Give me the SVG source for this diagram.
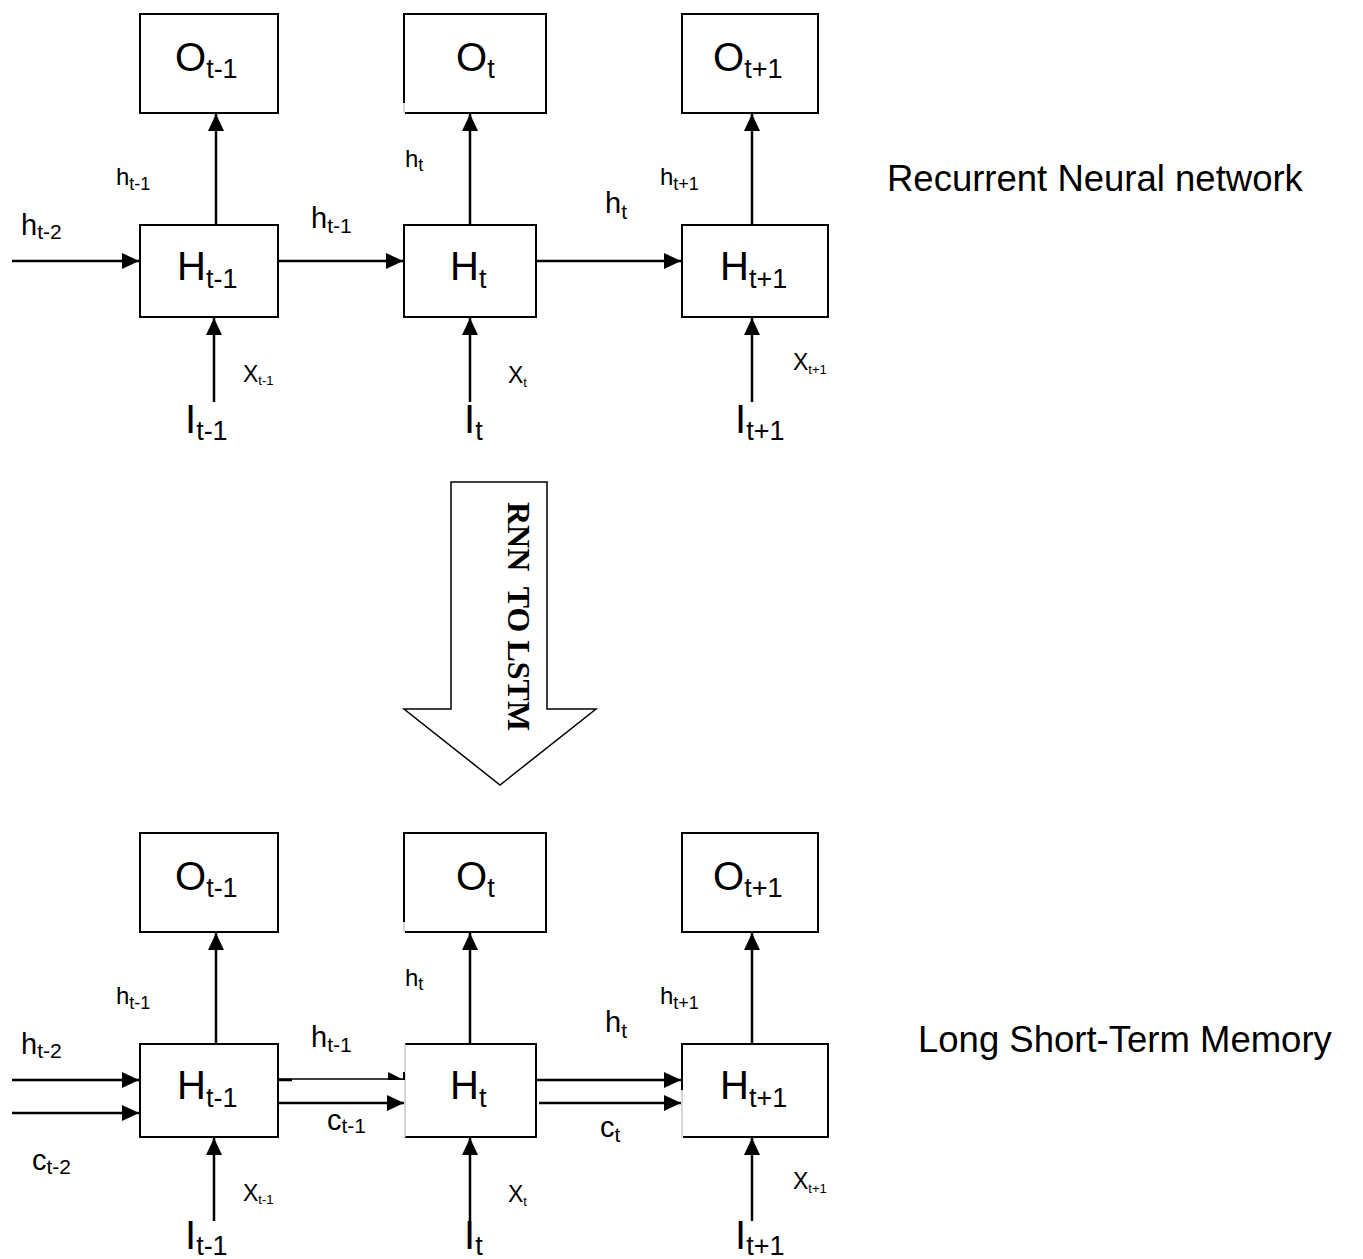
<svg xmlns="http://www.w3.org/2000/svg" width="1363" height="1259" viewBox="0 0 1363 1259">
<style>
.box{fill:#fff;stroke:#000;stroke-width:2}
.edge{fill:none;stroke:#000;stroke-width:2}
.faint{fill:none;stroke:#c8c8c8;stroke-width:1.5}
.con{fill:none;stroke:#000;stroke-width:2.5;marker-end:url(#ah)}
.t{font-family:"Liberation Sans",Arial,sans-serif;fill:#000}
.nd{font-size:40px}
.nd .s{font-size:27px}
.bg{font-size:29px}
.bg .s{font-size:21px}
.sm{font-size:24px}
.sm .s{font-size:18px}
.xs{font-size:23px}
.xs .s{font-size:13px}
.cap{font-size:36.5px}
.big{font-family:"Liberation Serif","Times New Roman",serif;font-weight:bold;font-size:32px;white-space:pre}
</style>
<defs>
<marker id="ah" markerUnits="userSpaceOnUse" markerWidth="17" markerHeight="16" refX="17" refY="8" orient="auto">
<path d="M0,0 L17,8 L0,16 z" fill="#000"/>
</marker>
</defs>
<rect width="1363" height="1259" fill="#fff"/>

<g id="connectors">
<line class="con" x1="216" y1="225" x2="216" y2="114"/>
<line class="con" x1="470" y1="225" x2="470" y2="114"/>
<line class="con" x1="752" y1="225" x2="752" y2="114"/>
<line class="con" x1="12" y1="261" x2="139" y2="261"/>
<line class="con" x1="278" y1="261" x2="403" y2="261"/>
<line class="con" x1="536" y1="261" x2="681" y2="261"/>
<line class="con" x1="214" y1="402" x2="214" y2="318"/>
<line class="con" x1="470" y1="402" x2="470" y2="318"/>
<line class="con" x1="752" y1="402" x2="752" y2="318"/>

<line class="con" x1="216" y1="1044" x2="216" y2="933"/>
<line class="con" x1="470" y1="1044" x2="470" y2="933"/>
<line class="con" x1="752" y1="1044" x2="752" y2="933"/>
<line class="con" x1="12" y1="1080" x2="139" y2="1080"/>
<line class="con" x1="12" y1="1113" x2="139" y2="1113"/>
<line x1="278" y1="1079" x2="404" y2="1079" stroke="#000" stroke-width="1.5"/>
<line x1="278" y1="1080" x2="292" y2="1080" stroke="#000" stroke-width="2.5"/>
<polygon points="388,1072 404,1080 388,1080" fill="#000"/>
<line class="con" x1="278" y1="1103" x2="404" y2="1103"/>
<line class="con" x1="537" y1="1080" x2="681" y2="1080"/>
<line class="con" x1="539" y1="1103" x2="681" y2="1103"/>
<line class="con" x1="214" y1="1221" x2="214" y2="1138"/>
<line class="con" x1="470" y1="1221" x2="470" y2="1138"/>
<line class="con" x1="752" y1="1221" x2="752" y2="1138"/>
</g>

<g id="O_t-1">
<rect class="box" x="140" y="14" width="138" height="99"/>
<text class="t nd" x="175" y="71">O<tspan class="s" dy="7">t-1</tspan></text>
</g>
<g id="O_t">
<rect x="404" y="14" width="142" height="99" fill="#fff"/>
<path class="edge" d="M404,103 V14 H546 V113 H405"/>
<path class="faint" d="M404,103 V113"/>
<text class="t nd" x="456" y="71">O<tspan class="s" dy="7">t</tspan></text>
</g>
<g id="O_t+1">
<rect class="box" x="682" y="14" width="136" height="99"/>
<text class="t nd" x="713" y="71">O<tspan class="s" dy="7">t+1</tspan></text>
</g>
<g id="H_t-1">
<rect class="box" x="140" y="225" width="138" height="92"/>
<text class="t nd" x="177" y="280">H<tspan class="s" dy="8">t-1</tspan></text>
</g>
<g id="H_t">
<rect class="box" x="404" y="225" width="132" height="92"/>
<text class="t nd" x="450" y="280">H<tspan class="s" dy="8">t</tspan></text>
</g>
<g id="H_t+1">
<rect class="box" x="682" y="225" width="146" height="92"/>
<text class="t nd" x="720" y="280">H<tspan class="s" dy="8">t+1</tspan></text>
</g>

<g id="O2_t-1">
<rect class="box" x="140" y="833" width="138" height="99"/>
<text class="t nd" x="175" y="890">O<tspan class="s" dy="7">t-1</tspan></text>
</g>
<g id="O2_t">
<rect x="404" y="833" width="142" height="99" fill="#fff"/>
<path class="edge" d="M404,922 V833 H546 V932 H405"/>
<path class="faint" d="M404,922 V932"/>
<text class="t nd" x="456" y="890">O<tspan class="s" dy="7">t</tspan></text>
</g>
<g id="O2_t+1">
<rect class="box" x="682" y="833" width="136" height="99"/>
<text class="t nd" x="713" y="890">O<tspan class="s" dy="7">t+1</tspan></text>
</g>
<g id="H2_t-1">
<rect class="box" x="140" y="1044" width="138" height="93"/>
<text class="t nd" x="177" y="1099">H<tspan class="s" dy="8">t-1</tspan></text>
</g>
<g id="H2_t">
<rect x="405" y="1044" width="131" height="93" fill="#fff"/>
<path class="edge" d="M405,1044 H536 V1137 H405"/>
<path class="faint" d="M405,1044 V1137"/>
<path class="edge" d="M404,1072 V1080"/>
<text class="t nd" x="450" y="1099">H<tspan class="s" dy="8">t</tspan></text>
</g>
<g id="H2_t+1">
<rect x="682" y="1044" width="146" height="93" fill="#fff"/>
<path class="edge" d="M682,1090 V1044 H828 V1137 H683"/>
<path class="faint" d="M682,1090 V1137"/>
<text class="t nd" x="720" y="1099">H<tspan class="s" dy="8">t+1</tspan></text>
</g>

<g id="inputs">
<text class="t nd" x="185" y="433">I<tspan class="s" dy="7">t-1</tspan></text>
<text class="t nd" x="464" y="433">I<tspan class="s" dy="7">t</tspan></text>
<text class="t nd" x="735" y="433">I<tspan class="s" dy="7">t+1</tspan></text>
<text class="t nd" x="185" y="1249">I<tspan class="s" dy="6">t-1</tspan></text>
<text class="t nd" x="464" y="1249">I<tspan class="s" dy="6">t</tspan></text>
<text class="t nd" x="735" y="1249">I<tspan class="s" dy="6">t+1</tspan></text>
</g>

<g id="labels">
<text class="t bg" x="21" y="235">h<tspan class="s" dy="4">t-2</tspan></text>
<text class="t bg" x="311" y="228">h<tspan class="s" dy="5">t-1</tspan></text>
<text class="t bg" x="605" y="213">h<tspan class="s" dy="6">t</tspan></text>
<text class="t sm" x="116" y="185">h<tspan class="s" dy="5">t-1</tspan></text>
<text class="t sm" x="405" y="167">h<tspan class="s" dy="4">t</tspan></text>
<text class="t sm" x="660" y="185">h<tspan class="s" dy="5">t+1</tspan></text>
<text class="t xs" x="243" y="382">X<tspan class="s" dy="3">t-1</tspan></text>
<text class="t xs" x="508" y="383">X<tspan class="s" dy="4">t</tspan></text>
<text class="t xs" x="793" y="370">X<tspan class="s" dy="4">t+1</tspan></text>

<text class="t bg" x="21" y="1054">h<tspan class="s" dy="4">t-2</tspan></text>
<text class="t bg" x="311" y="1047">h<tspan class="s" dy="5">t-1</tspan></text>
<text class="t bg" x="605" y="1032">h<tspan class="s" dy="6">t</tspan></text>
<text class="t bg" x="32" y="1170">c<tspan class="s" dy="4">t-2</tspan></text>
<text class="t bg" x="327" y="1130">c<tspan class="s" dy="3">t-1</tspan></text>
<text class="t bg" x="600" y="1137">c<tspan class="s" dy="5">t</tspan></text>
<text class="t sm" x="116" y="1004">h<tspan class="s" dy="5">t-1</tspan></text>
<text class="t sm" x="405" y="986">h<tspan class="s" dy="4">t</tspan></text>
<text class="t sm" x="660" y="1004">h<tspan class="s" dy="5">t+1</tspan></text>
<text class="t xs" x="243" y="1201">X<tspan class="s" dy="3">t-1</tspan></text>
<text class="t xs" x="508" y="1202">X<tspan class="s" dy="4">t</tspan></text>
<text class="t xs" x="793" y="1189">X<tspan class="s" dy="4">t+1</tspan></text>
</g>

<g id="titles">
<text class="t cap" x="887" y="191">Recurrent Neural network</text>
<text class="t cap" x="918" y="1052">Long Short-Term Memory</text>
</g>

<g id="transition_arrow">
<polygon points="451,482 547,482 547,709 596,709 500,785 404,709 451,709" fill="#fff" stroke="#000" stroke-width="1.5"/>
<text class="big" transform="translate(508,502) rotate(90)">RNN  TO LSTM</text>
</g>
</svg>
